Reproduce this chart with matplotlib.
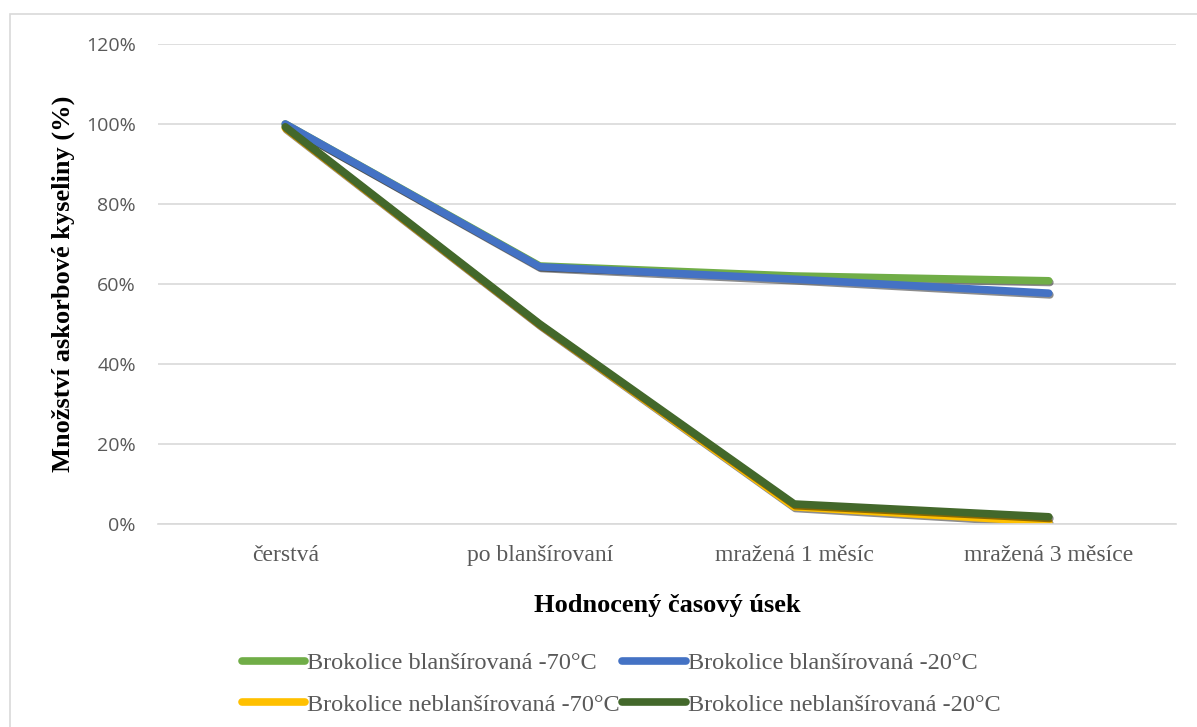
import matplotlib.pyplot as plt
import matplotlib.patheffects as pe
from matplotlib.patches import Rectangle
from matplotlib.ticker import PercentFormatter

categories = ["čerstvá", "po blanšírovaní", "mražená 1 měsíc", "mražená 3 měsíce"]
blan_70 = [100, 64.5, 62.0, 60.8]
blan_20 = [100, 64.3, 61.2, 57.7]
neblan_70 = [99.0, 49.8, 4.3, 0.5]
neblan_20 = [99.3, 50.0, 5.0, 1.8]

series = [
    ("Brokolice blanšírovaná -70°C", blan_70, "#70ad47"),
    ("Brokolice blanšírovaná -20°C", blan_20, "#4472c4"),
    ("Brokolice neblanšírovaná -70°C", neblan_70, "#ffc000"),
    ("Brokolice neblanšírovaná -20°C", neblan_20, "#43682b"),
]

serif = "Liberation Serif"
sans = "Open Sans"

fig = plt.figure(figsize=(11.97, 7.27), dpi=100)
fig.patches.append(Rectangle((10 / 1197, -0.1), 1.2, (727 - 14) / 727 + 0.1,
                             transform=fig.transFigure, fill=False,
                             edgecolor="#d9d9d9", linewidth=1.2))

ax = fig.add_axes([158 / 1197, 1 - 524 / 727, (1176 - 158) / 1197, (524 - 44) / 727])

x = range(len(categories))
shadow = [pe.SimpleLineShadow(offset=(0.8, -1.2), shadow_color="black", alpha=0.45),
          pe.Normal()]
lines = {}
for label, vals, color in series:
    ln, = ax.plot(x, vals, color=color, linewidth=5.5, solid_capstyle="round",
                  solid_joinstyle="round", label=label, path_effects=shadow)
    lines[label] = ln

ax.set_xlim(-0.5, 3.5)
ax.set_ylim(0, 120)
ax.set_yticks(range(0, 121, 20))
ax.yaxis.set_major_formatter(PercentFormatter(decimals=0))
ax.set_xticks(list(x))
ax.set_xticklabels(categories, fontfamily=serif, fontsize=17, color="#595959")
for t in ax.get_yticklabels():
    t.set_fontfamily(sans)
    t.set_fontsize(14)
    t.set_color("#595959")
ax.tick_params(axis="both", length=0)
ax.tick_params(axis="x", pad=15)
ax.tick_params(axis="y", pad=16)
ax.grid(axis="y", color="#d9d9d9", linewidth=1.2)
ax.set_axisbelow(True)
for s in ["left", "right", "top"]:
    ax.spines[s].set_visible(False)
ax.spines["bottom"].set_color("#d9d9d9")
ax.spines["bottom"].set_linewidth(1.2)

ax.set_xlabel("Hodnocený časový úsek", fontfamily=serif, fontsize=19,
              fontweight="bold", labelpad=20)
ax.set_ylabel("Množství askorbové kyseliny (%)", fontfamily=serif, fontsize=19,
              fontweight="bold", labelpad=8)

# legend reads row by row: -70 / -20 pairs side by side
order = [series[0][0], series[2][0], series[1][0], series[3][0]]
leg = ax.legend([lines[k] for k in order], order, loc="upper center",
                bbox_to_anchor=(0.455, -0.222), ncol=2,
                frameon=False, prop={"family": serif, "size": 17.5},
                handlelength=2.6, handletextpad=0.1, columnspacing=0.1,
                labelspacing=0.8, labelcolor="#595959")
for h in leg.get_lines():
    h.set_path_effects([])
    h.set_linewidth(5.5)

fig.savefig("out.png", dpi=100)
